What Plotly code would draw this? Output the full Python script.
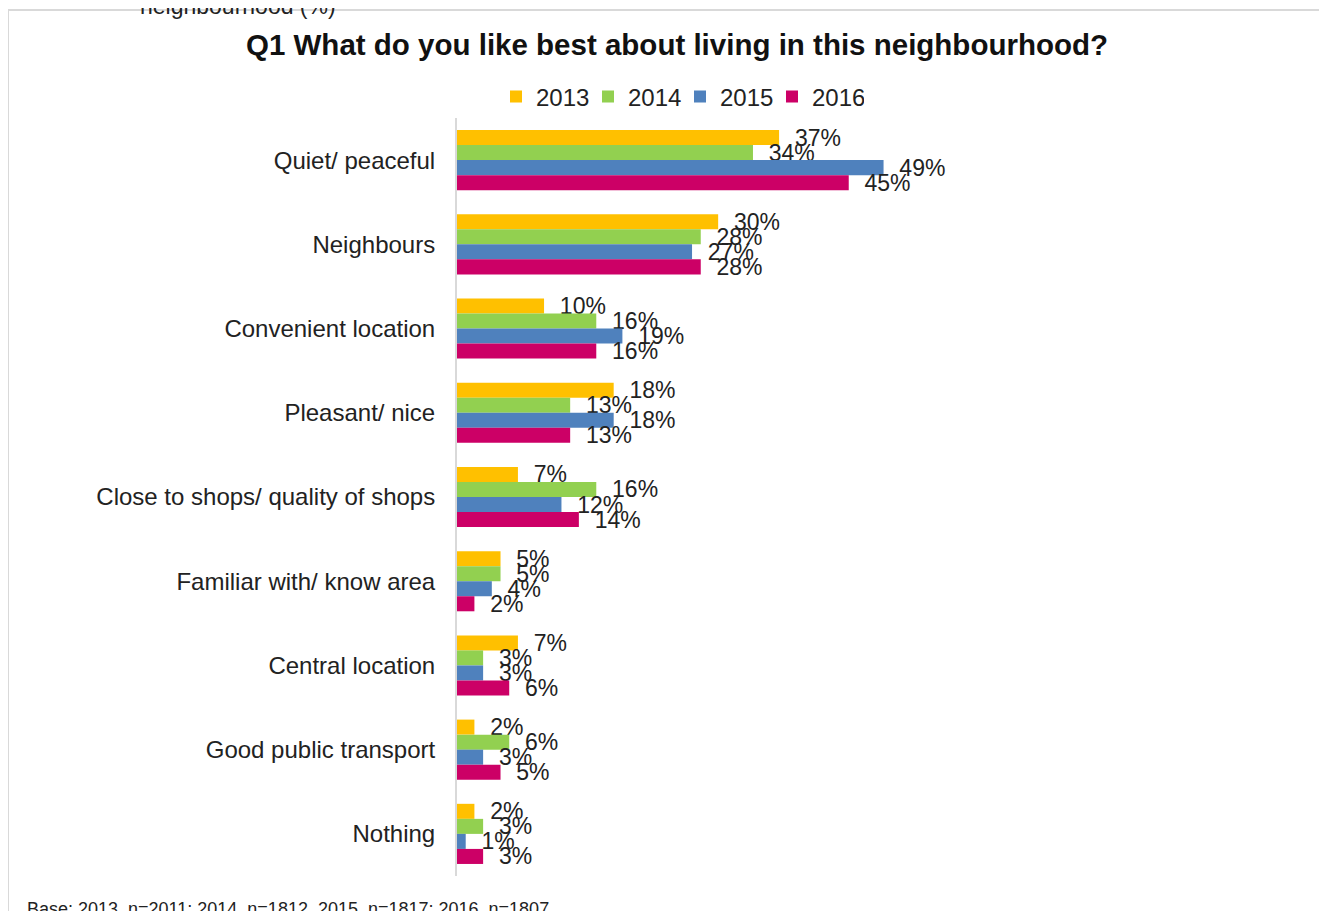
import plotly.graph_objects as go

categories = ["Quiet/ peaceful", "Neighbours", "Convenient location", "Pleasant/ nice",
              "Close to shops/ quality of shops", "Familiar with/ know area",
              "Central location", "Good public transport", "Nothing"]
years = ["2013", "2014", "2015", "2016"]
v2013 = [37, 30, 10, 18, 7, 5, 7, 2, 2]
v2014 = [34, 28, 16, 13, 16, 5, 3, 6, 3]
v2015 = [49, 27, 19, 18, 12, 4, 3, 3, 1]
v2016 = [45, 28, 16, 13, 14, 2, 6, 5, 3]
colors = ["#FFC000", "#92D050", "#4F81BD", "#CC0066"]

OFF = 8  # page body margin offset
W, H = 1327, 911
L, T = 457 - OFF, 118 - OFF
R = W - (1284 - OFF)
B = H - (876 - OFF)
pw, ph = W - L - R, H - T - B

def px(x):
    return (x - OFF - L) / pw

def py(y):
    return (H - B - (y - OFF)) / ph

FONT = "Liberation Sans, Arial, sans-serif"

fig = go.Figure()
for name, vals, col in zip(years, [v2013, v2014, v2015, v2016], colors):
    fig.add_trace(go.Bar(
        y=categories, x=vals, name=name, orientation="h",
        marker=dict(color=col, line=dict(width=0)),
        text=[f"{v}%" for v in vals], texttemplate="  %{text}",
        textposition="outside", constraintext="none", cliponaxis=False,
        textfont=dict(family=FONT, size=23, color="#222222"),
    ))

fig.update_layout(
    width=W, height=H,
    margin=dict(l=L, r=R, t=T, b=B),
    paper_bgcolor="white", plot_bgcolor="white",
    barmode="group", bargap=0.286, bargroupgap=0,
    font=dict(family=FONT, color="#222222"),
    title=dict(text="<b>Q1 What do you like best about living in this neighbourhood?</b>",
               x=(677 - OFF) / W, xanchor="center", y=1 - (45 - OFF) / H, yanchor="middle",
               font=dict(size=29.5, color="#111111")),
    legend=dict(orientation="h", x=px(680), xanchor="center", y=py(97), yanchor="middle",
                font=dict(size=24, color="#222222"), traceorder="normal",
                itemwidth=30, entrywidth=47, bgcolor="rgba(0,0,0,0)"),
    xaxis=dict(range=[0, 95], showticklabels=False, showgrid=False, zeroline=False,
               showline=False, fixedrange=True),
    yaxis=dict(autorange="reversed", showline=True, linecolor="#D9D9D9", linewidth=2,
               ticks="", showgrid=False, ticklabelstandoff=15,
               tickfont=dict(size=24, color="#222222")),
    showlegend=True,
)

# chart frame lines (border of the embedded chart)
fig.add_shape(type="line", xref="paper", yref="paper", x0=px(8), x1=px(W + 20), y0=py(10), y1=py(10),
              line=dict(color="#D9D9D9", width=2))
fig.add_shape(type="line", xref="paper", yref="paper", x0=px(8), x1=px(8), y0=py(10), y1=py(H + 20),
              line=dict(color="#D9D9D9", width=2))

fig.add_annotation(text="neighbourhood (%)", xref="paper", yref="paper",
                   x=px(338), xanchor="right", y=py(21), yanchor="bottom", showarrow=False,
                   font=dict(size=23, color="#222222"))
fig.add_annotation(text="Base: 2013, n=2011; 2014, n=1812, 2015, n=1817; 2016, n=1807",
                   xref="paper", yref="paper", x=px(25), xanchor="left", y=py(897), yanchor="top",
                   showarrow=False, font=dict(size=18, color="#222222"))

fig.write_html("out.html")
